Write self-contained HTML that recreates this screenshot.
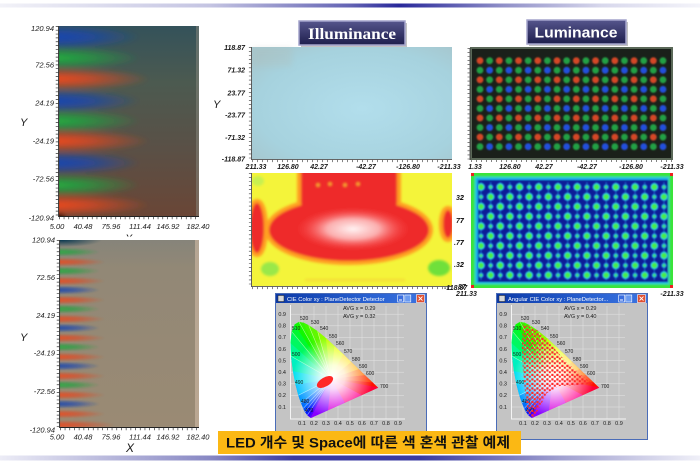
<!DOCTYPE html>
<html><head><meta charset="utf-8"><style>
html,body{margin:0;padding:0;background:#fff;}
svg{display:block;}
.t{font-family:"Liberation Sans",sans-serif;font-style:italic;font-size:7.5px;fill:#1a1a1a;}
.s{font-family:"Liberation Sans",sans-serif;font-size:5.5px;fill:#1a1a1a;}
.w{font-family:"Liberation Sans",sans-serif;font-size:5.8px;fill:#fff;}
</style></head><body>
<svg width="700" height="463" viewBox="0 0 700 463" xmlns="http://www.w3.org/2000/svg">
<defs>
 <linearGradient id="topbar" x1="0" x2="1" y1="0" y2="0">
  <stop offset="0" stop-color="#f2f2f8"/><stop offset="0.3" stop-color="#c4c4e2"/>
  <stop offset="0.5" stop-color="#6464b4"/><stop offset="0.57" stop-color="#28289a"/>
  <stop offset="0.72" stop-color="#9090c8"/><stop offset="0.86" stop-color="#d8d8ec"/>
  <stop offset="1" stop-color="#f4f4fa"/></linearGradient>
 <linearGradient id="botbar" x1="0" x2="1" y1="0" y2="0">
  <stop offset="0" stop-color="#ececf6"/><stop offset="0.3" stop-color="#8888c4"/>
  <stop offset="0.42" stop-color="#3a3aa0"/><stop offset="0.6" stop-color="#3a3aa0"/>
  <stop offset="0.8" stop-color="#a0a0d0"/><stop offset="1" stop-color="#f0f0f8"/></linearGradient>
 <linearGradient id="p1bg" x1="0" x2="0" y1="0" y2="1">
  <stop offset="0" stop-color="#34525a"/><stop offset="0.3" stop-color="#4c5a50"/>
  <stop offset="0.65" stop-color="#5a5046"/><stop offset="1" stop-color="#6a4636"/></linearGradient>
 <linearGradient id="p2bg" x1="0" x2="0" y1="0" y2="1">
  <stop offset="0" stop-color="#86847a"/><stop offset="0.15" stop-color="#928876"/>
  <stop offset="1" stop-color="#9a8a74"/></linearGradient>
 <radialGradient id="gB"><stop offset="0" stop-color="#1846b0"/><stop offset="0.4" stop-color="#1846b0" stop-opacity="0.75"/><stop offset="1" stop-color="#1846b0" stop-opacity="0"/></radialGradient>
 <radialGradient id="gG"><stop offset="0" stop-color="#22b040"/><stop offset="0.4" stop-color="#22a040" stop-opacity="0.75"/><stop offset="1" stop-color="#22a040" stop-opacity="0"/></radialGradient>
 <radialGradient id="gR"><stop offset="0" stop-color="#f04a1e"/><stop offset="0.4" stop-color="#e04820" stop-opacity="0.75"/><stop offset="1" stop-color="#e04820" stop-opacity="0"/></radialGradient>
 <radialGradient id="ilc" cx="0.55" cy="0.55" r="0.7"><stop offset="0" stop-color="#b2deec"/><stop offset="0.75" stop-color="#a6d2de"/><stop offset="1" stop-color="#a6c8d0"/></radialGradient>
 <radialGradient id="wc"><stop offset="0" stop-color="#fff4f4"/><stop offset="0.45" stop-color="#ffd0d0" stop-opacity="0.8"/><stop offset="1" stop-color="#ff4040" stop-opacity="0"/></radialGradient>
 <radialGradient id="wp"><stop offset="0" stop-color="#ffffff"/><stop offset="0.3" stop-color="#ffffff" stop-opacity="0.85"/><stop offset="1" stop-color="#ffffff" stop-opacity="0"/></radialGradient>
 <radialGradient id="tl"><stop offset="0" stop-color="#0a3850"/><stop offset="1" stop-color="#0a3850" stop-opacity="0"/></radialGradient>
 <linearGradient id="nb" x1="0" x2="0" y1="0" y2="1"><stop offset="0" stop-color="#55558c"/><stop offset="1" stop-color="#1e1e4c"/></linearGradient>
 <linearGradient id="tb" x1="0" x2="1" y1="0" y2="0"><stop offset="0" stop-color="#0c3aa8"/><stop offset="0.6" stop-color="#2860d0"/><stop offset="1" stop-color="#3c74e0"/></linearGradient>
 <filter id="b08" x="-5%" y="-5%" width="110%" height="110%"><feGaussianBlur stdDeviation="0.9"/></filter>
 <filter id="b12" x="-10%" y="-10%" width="120%" height="120%"><feGaussianBlur stdDeviation="1.3"/></filter>
 <filter id="b2" x="-10%" y="-10%" width="120%" height="120%"><feGaussianBlur stdDeviation="2.2"/></filter>
 <filter id="b3" x="-30%" y="-30%" width="160%" height="160%"><feGaussianBlur stdDeviation="3"/></filter>
 <clipPath id="c1"><rect x="59" y="26" width="140" height="190"/></clipPath>
 <clipPath id="c2"><rect x="60" y="240" width="139" height="187"/></clipPath>
 <clipPath id="c3"><rect x="252" y="173" width="200" height="113"/></clipPath>
 <clipPath id="c4"><rect x="478" y="180" width="190" height="102"/></clipPath>
 <pattern id="lum" patternUnits="userSpaceOnUse" x="475.185" y="55.925" width="19.26" height="19.1">
  <circle cx="4.815" cy="4.775" r="3.4" fill="#d44628"/>
  <circle cx="14.445" cy="4.775" r="3.4" fill="#24a044"/>
  <circle cx="4.815" cy="14.325" r="3.4" fill="#24a044"/>
  <circle cx="14.445" cy="14.325" r="3.4" fill="#2250dc"/>
 </pattern>
 <pattern id="lhm" patternUnits="userSpaceOnUse" x="476.185" y="182.1" width="19.26" height="19.6">
  <rect x="4.2" y="0" width="1.2" height="19.6" fill="#20a8e8" opacity="0.55"/>
  <rect x="13.85" y="0" width="1.2" height="19.6" fill="#20a8e8" opacity="0.55"/>
  <circle cx="4.815" cy="4.9" r="4" fill="#28c8e8"/><circle cx="4.815" cy="4.9" r="2.8" fill="#48ec48"/>
  <circle cx="14.445" cy="4.9" r="2.6" fill="#20b0e8"/><circle cx="14.445" cy="4.9" r="1.4" fill="#48e060"/>
  <circle cx="4.815" cy="14.7" r="2.6" fill="#20b0e8"/><circle cx="4.815" cy="14.7" r="1.4" fill="#48e060"/>
  <circle cx="14.445" cy="14.7" r="4" fill="#28c8e8"/><circle cx="14.445" cy="14.7" r="2.8" fill="#48ec48"/>
 </pattern>
 <pattern id="rd" patternUnits="userSpaceOnUse" x="0" y="0" width="5" height="4.5">
  <rect x="0.3" y="0.3" width="2.2" height="2.2" fill="#ff2a2a"/>
  <rect x="2.8" y="2.2" width="2" height="2" fill="#ff2a2a"/>
 </pattern>
 <clipPath id="loc"><polygon points="310.9,418 308.8,416.5 307.3,415.2 304.9,411.9 303.2,408.5 301,403.2 298.2,395.3 295.4,384.4 292.8,370.7 291,356.1 290.5,342.6 291.7,331.6 294.7,324.4 298.9,321.9 303.7,322.8 308.6,325.1 317.6,331.1 326.2,338.3 334.8,346.2 343.3,354.3 351.5,362.2 359,369.4 365.2,375.4 373,382.8 378.2,387.8"/></clipPath>
 <g id="winbase">
  <rect x="275.5" y="293.5" width="151" height="146" fill="#c4c4c4" stroke="#4a6cb8" stroke-width="1"/>
  <rect x="276" y="294" width="150" height="9" fill="url(#tb)"/>
  <rect x="278" y="295.5" width="6" height="6" fill="#d8d8d8" stroke="#222" stroke-width="0.5"/>
  <rect x="397.7" y="295" width="6" height="7" fill="#3a6ee0" stroke="#fff" stroke-width="0.6"/>
  <rect x="404.8" y="295" width="6" height="7" fill="#6a9af0" stroke="#fff" stroke-width="0.6"/>
  <rect x="416.5" y="294.6" width="8" height="8" fill="#e05030" stroke="#fff" stroke-width="0.6"/>
  <path d="M418.5 296.6 L422.5 300.6 M422.5 296.6 L418.5 300.6" stroke="#fff" stroke-width="0.9"/>
  <rect x="399" y="299.5" width="3" height="1" fill="#fff"/>
  <g stroke="#e4e4e4" stroke-width="0.5">
   <path d="M302 306V418.6M314 306V418.6M326 306V418.6M338 306V418.6M350 306V418.6M362 306V418.6M374 306V418.6M386 306V418.6M398 306V418.6"/>
   <path d="M290 407H404M290 395.4H404M290 383.8H404M290 372.2H404M290 360.6H404M290 349H404M290 337.4H404M290 325.8H404M290 314.2H404"/>
  </g>
  <path d="M290.5 305V419H405" fill="none" stroke="#f4f4f4" stroke-width="1"/>
  <g clip-path="url(#loc)">
   <g stroke-width="0.6">
    <polygon points="331,379 310.9,418 308.8,416.5" fill="#5000ff" stroke="#5000ff"/>
    <polygon points="331,379 308.8,416.5 307.3,415.2" fill="#2a00ff" stroke="#2a00ff"/>
    <polygon points="331,379 307.3,415.2 304.9,411.9" fill="#0020ff" stroke="#0020ff"/>
    <polygon points="331,379 304.9,411.9 303.2,408.5" fill="#0050ff" stroke="#0050ff"/>
    <polygon points="331,379 303.2,408.5 301,403.2" fill="#0070ff" stroke="#0070ff"/>
    <polygon points="331,379 301,403.2 298.2,395.3" fill="#0098ff" stroke="#0098ff"/>
    <polygon points="331,379 298.2,395.3 295.4,384.4" fill="#00c0ff" stroke="#00c0ff"/>
    <polygon points="331,379 295.4,384.4 292.8,370.7" fill="#00e0f0" stroke="#00e0f0"/>
    <polygon points="331,379 292.8,370.7 291,356.1" fill="#00f0c0" stroke="#00f0c0"/>
    <polygon points="331,379 291,356.1 290.5,342.6" fill="#00f890" stroke="#00f890"/>
    <polygon points="331,379 290.5,342.6 291.7,331.6" fill="#00f860" stroke="#00f860"/>
    <polygon points="331,379 291.7,331.6 294.7,324.4" fill="#00f830" stroke="#00f830"/>
    <polygon points="331,379 294.7,324.4 298.9,321.9" fill="#10f800" stroke="#10f800"/>
    <polygon points="331,379 298.9,321.9 303.7,322.8" fill="#30f800" stroke="#30f800"/>
    <polygon points="331,379 303.7,322.8 308.6,325.1" fill="#40f800" stroke="#40f800"/>
    <polygon points="331,379 308.6,325.1 317.6,331.1" fill="#60f800" stroke="#60f800"/>
    <polygon points="331,379 317.6,331.1 326.2,338.3" fill="#90ff00" stroke="#90ff00"/>
    <polygon points="331,379 326.2,338.3 334.8,346.2" fill="#c0ff00" stroke="#c0ff00"/>
    <polygon points="331,379 334.8,346.2 343.3,354.3" fill="#e8ff00" stroke="#e8ff00"/>
    <polygon points="331,379 343.3,354.3 351.5,362.2" fill="#ffe000" stroke="#ffe000"/>
    <polygon points="331,379 351.5,362.2 359,369.4" fill="#ffb000" stroke="#ffb000"/>
    <polygon points="331,379 359,369.4 365.2,375.4" fill="#ff7000" stroke="#ff7000"/>
    <polygon points="331,379 365.2,375.4 373,382.8" fill="#ff3800" stroke="#ff3800"/>
    <polygon points="331,379 373,382.8 378.2,387.8" fill="#ff1000" stroke="#ff1000"/>
    <polygon points="331,379 378.2,387.8 361.4,395.4" fill="#ff0038" stroke="#ff0038"/>
    <polygon points="331,379 361.4,395.4 344.6,402.9" fill="#ff0090" stroke="#ff0090"/>
    <polygon points="331,379 344.6,402.9 327.7,410.5" fill="#d800e0" stroke="#d800e0"/>
    <polygon points="331,379 327.7,410.5 310.9,418" fill="#8800ff" stroke="#8800ff"/>
   </g>
   <circle cx="333" cy="377" r="40" fill="url(#wp)"/>
   <g stroke="#ffffff" stroke-opacity="0.55" stroke-width="0.6">
    <path d="M331 379L291.7 331.6M331 379L298.9 321.9M331 379L308.6 325.1M331 379L317.6 331.1M331 379L291 356.1M331 379L301 403.2M331 379L304.9 411.9M331 379L307.3 415.2M331 379L303.2 408.5M331 379L298.2 395.3"/>
   </g>
  </g>
  <g class="s" text-anchor="end">
   <text x="286" y="316">0.9</text><text x="286" y="327.6">0.8</text><text x="286" y="339.2">0.7</text>
   <text x="286" y="350.8">0.6</text><text x="286" y="362.4">0.5</text><text x="286" y="374">0.4</text>
   <text x="286" y="385.6">0.3</text><text x="286" y="397.2">0.2</text><text x="286" y="408.8">0.1</text>
  </g>
  <g class="s" text-anchor="middle">
   <text x="302" y="425">0.1</text><text x="314" y="425">0.2</text><text x="326" y="425">0.3</text>
   <text x="338" y="425">0.4</text><text x="350" y="425">0.5</text><text x="362" y="425">0.6</text>
   <text x="374" y="425">0.7</text><text x="386" y="425">0.8</text><text x="398" y="425">0.9</text>
  </g>
  <g class="s" style="font-size:5px">
   <text x="300" y="320">520</text><text x="311" y="324">530</text><text x="292" y="330">510</text>
   <text x="320" y="330">540</text><text x="329" y="338">550</text><text x="336" y="345">560</text>
   <text x="344" y="353">570</text><text x="352" y="361">580</text><text x="359" y="368">590</text>
   <text x="366" y="375">600</text><text x="380" y="388">700</text><text x="292" y="356">500</text>
   <text x="295" y="384">490</text><text x="301" y="403">480</text><text x="305" y="412">470</text>
  </g>
 </g>
</defs>

<!-- decorative bars -->
<rect x="0" y="3.5" width="700" height="4" fill="url(#topbar)"/>
<rect x="0" y="455.5" width="700" height="5" fill="url(#botbar)"/>

<!-- ===== Left plot 1 ===== -->
<g clip-path="url(#c1)">
 <rect x="59" y="26" width="140" height="190" fill="url(#p1bg)"/>
 <g filter="url(#b2)">
  <ellipse cx="55" cy="37" rx="85" ry="13" fill="url(#gB)"/>
  <ellipse cx="55" cy="58" rx="85" ry="12" fill="url(#gG)"/>
  <ellipse cx="55" cy="79" rx="95" ry="12" fill="url(#gR)"/>
  <ellipse cx="55" cy="101" rx="85" ry="12" fill="url(#gB)"/>
  <ellipse cx="55" cy="121" rx="85" ry="12" fill="url(#gG)"/>
  <ellipse cx="55" cy="141" rx="95" ry="12" fill="url(#gR)"/>
  <ellipse cx="55" cy="163" rx="85" ry="12" fill="url(#gB)"/>
  <ellipse cx="55" cy="185" rx="85" ry="12" fill="url(#gG)"/>
  <ellipse cx="55" cy="205" rx="95" ry="12" fill="url(#gR)"/>
  <ellipse cx="58" cy="217" rx="8" ry="4" fill="#100806" opacity="0.8"/>
 </g>
 <rect x="196" y="26" width="3" height="190" fill="#8a8a80" opacity="0.5"/>
</g>
<line x1="58.6" y1="26" x2="58.6" y2="217" stroke="#222" stroke-width="0.9"/>
<line x1="57" y1="26" x2="57" y2="217" stroke="#333" stroke-width="2.5" stroke-dasharray="0.7 3.15"/>
<line x1="59" y1="216.5" x2="199" y2="216.5" stroke="#222" stroke-width="0.9"/>
<line x1="59" y1="218" x2="199" y2="218" stroke="#333" stroke-width="2.5" stroke-dasharray="0.7 4.0"/>
<g class="t" text-anchor="end">
 <text x="54" y="31">120.94</text><text x="54" y="67.5">72.56</text><text x="54" y="105.5">24.19</text>
 <text x="54" y="143.5">-24.19</text><text x="54" y="181.5">-72.56</text><text x="54" y="220.5">-120.94</text>
</g>
<g class="t" text-anchor="middle">
 <text x="57" y="229">5.00</text><text x="83" y="229">40.48</text><text x="111" y="229">75.96</text>
 <text x="140" y="229">111.44</text><text x="168" y="229">146.92</text><text x="198" y="229">182.40</text>
</g>
<text x="20" y="126" class="t" style="font-size:11px">Y</text>
<text x="125" y="242" class="t" style="font-size:11px">X</text>
<rect x="110" y="236.5" width="40" height="4" fill="#fff"/>

<!-- ===== Left plot 2 ===== -->
<g clip-path="url(#c2)">
 <rect x="60" y="240" width="139" height="187" fill="url(#p2bg)"/>
 <ellipse cx="62" cy="240" rx="40" ry="7" fill="url(#tl)"/>
 <g opacity="0.85" filter="url(#b08)">
  <ellipse cx="60" cy="252" rx="40" ry="4.5" fill="url(#gG)"/>
  <ellipse cx="60" cy="262" rx="45" ry="4.5" fill="url(#gR)"/>
  <ellipse cx="60" cy="271" rx="40" ry="4.5" fill="url(#gG)"/>
  <ellipse cx="60" cy="281" rx="45" ry="4.5" fill="url(#gR)"/>
  <ellipse cx="60" cy="290" rx="40" ry="4.5" fill="url(#gB)"/>
  <ellipse cx="60" cy="300" rx="45" ry="4.5" fill="url(#gR)"/>
  <ellipse cx="60" cy="309" rx="40" ry="4.5" fill="url(#gG)"/>
  <ellipse cx="60" cy="319" rx="45" ry="4.5" fill="url(#gR)"/>
  <ellipse cx="60" cy="328" rx="40" ry="4.5" fill="url(#gB)"/>
  <ellipse cx="60" cy="338" rx="45" ry="4.5" fill="url(#gR)"/>
  <ellipse cx="60" cy="347" rx="40" ry="4.5" fill="url(#gG)"/>
  <ellipse cx="60" cy="357" rx="45" ry="4.5" fill="url(#gR)"/>
  <ellipse cx="60" cy="366" rx="40" ry="4.5" fill="url(#gB)"/>
  <ellipse cx="60" cy="376" rx="45" ry="4.5" fill="url(#gR)"/>
  <ellipse cx="60" cy="385" rx="40" ry="4.5" fill="url(#gG)"/>
  <ellipse cx="60" cy="395" rx="45" ry="4.5" fill="url(#gR)"/>
  <ellipse cx="60" cy="404" rx="40" ry="4.5" fill="url(#gB)"/>
  <ellipse cx="60" cy="414" rx="45" ry="4.5" fill="url(#gR)"/>
  <ellipse cx="60" cy="425" rx="55" ry="5" fill="url(#gR)"/>
 </g>
 <rect x="195" y="240" width="4" height="187" fill="#c8b4a0" opacity="0.7"/>
</g>
<line x1="59.6" y1="240" x2="59.6" y2="428" stroke="#222" stroke-width="0.9"/>
<line x1="58" y1="240" x2="58" y2="428" stroke="#333" stroke-width="2.5" stroke-dasharray="0.7 3.1"/>
<line x1="60" y1="427.5" x2="199" y2="427.5" stroke="#222" stroke-width="0.9"/>
<line x1="60" y1="429" x2="199" y2="429" stroke="#333" stroke-width="2.5" stroke-dasharray="0.7 4.0"/>
<g class="t" text-anchor="end">
 <text x="55" y="242.5">120.94</text><text x="55" y="280">72.56</text><text x="55" y="318">24.19</text>
 <text x="55" y="355.5">-24.19</text><text x="55" y="394">-72.56</text><text x="55" y="432.5">-120.94</text>
</g>
<g class="t" text-anchor="middle">
 <text x="57" y="439.5">5.00</text><text x="83" y="439.5">40.48</text><text x="111" y="439.5">75.96</text>
 <text x="140" y="439.5">111.44</text><text x="168" y="439.5">146.92</text><text x="198" y="439.5">182.40</text>
</g>
<text x="20" y="341" class="t" style="font-size:11px">Y</text>
<text x="126" y="452" class="t" style="font-size:12px">X</text>

<!-- ===== Titles ===== -->
<rect x="301" y="23" width="106" height="24" fill="#777" opacity="0.45"/>
<rect x="299" y="21" width="106" height="24" fill="url(#nb)" stroke="#a4a4cc" stroke-width="1.5"/>
<text x="352" y="39" text-anchor="middle" textLength="88" lengthAdjust="spacingAndGlyphs" style="font-family:'Liberation Serif',serif;font-weight:bold;font-size:16px;fill:#fff">Illuminance</text>
<rect x="529" y="22" width="99" height="24" fill="#777" opacity="0.45"/>
<rect x="527" y="20" width="99" height="24" fill="url(#nb)" stroke="#a4a4cc" stroke-width="1.5"/>
<text x="576" y="37.5" text-anchor="middle" textLength="83" lengthAdjust="spacingAndGlyphs" style="font-family:'Liberation Sans',sans-serif;font-weight:bold;font-size:15px;fill:#fff">Luminance</text>

<!-- ===== Illuminance plot ===== -->
<rect x="252" y="47" width="200" height="112" fill="url(#ilc)"/>
<rect x="252" y="47" width="40" height="20" fill="#b4b8ac" opacity="0.2" filter="url(#b3)"/>
<line x1="251.6" y1="47" x2="251.6" y2="160" stroke="#333" stroke-width="0.8"/>
<line x1="250" y1="47" x2="250" y2="160" stroke="#333" stroke-width="2.2" stroke-dasharray="0.6 3.5"/>
<line x1="252" y1="159.5" x2="452" y2="159.5" stroke="#333" stroke-width="0.8"/>
<line x1="252" y1="161" x2="452" y2="161" stroke="#333" stroke-width="2.2" stroke-dasharray="0.6 4.4"/>
<g class="t" text-anchor="end" style="font-weight:bold;font-size:7px">
 <text x="245" y="50">118.87</text><text x="245" y="72.5">71.32</text><text x="245" y="95.5">23.77</text>
 <text x="245" y="117.5">-23.77</text><text x="245" y="140">-71.32</text><text x="245" y="161.5">-118.87</text>
</g>
<text x="213" y="108" class="t" style="font-size:11px">Y</text>
<g class="t" text-anchor="middle" style="font-weight:bold;font-size:7px">
 <text x="256" y="169">211.33</text><text x="288" y="169">126.80</text><text x="319" y="169">42.27</text>
 <text x="366" y="169">-42.27</text><text x="408" y="169">-126.80</text><text x="449" y="169">-211.33</text>
</g>

<!-- ===== Luminance plot ===== -->
<rect x="471" y="48" width="201" height="111" fill="#1a201a" stroke="#5a6858" stroke-width="2"/>
<rect x="475.185" y="55.925" width="192.6" height="95.5" fill="url(#lum)" filter="url(#b08)"/>
<line x1="470" y1="48" x2="470" y2="160" stroke="#333" stroke-width="0.8"/>
<line x1="468.5" y1="48" x2="468.5" y2="160" stroke="#333" stroke-width="2" stroke-dasharray="0.6 3.5"/>
<line x1="471" y1="161" x2="672" y2="161" stroke="#333" stroke-width="2" stroke-dasharray="0.6 4.4"/>
<g class="t" text-anchor="middle" style="font-weight:bold;font-size:7px">
 <text x="475" y="169">1.33</text><text x="510" y="169">126.80</text><text x="544" y="169">42.27</text>
 <text x="587" y="169">-42.27</text><text x="631" y="169">-126.80</text><text x="672" y="169">-211.33</text>
</g>

<!-- ===== Illuminance heatmap ===== -->
<g clip-path="url(#c3)">
 <rect x="252" y="173" width="200" height="113" fill="#f4f43a"/>
 <g filter="url(#b12)">
  <ellipse cx="270" cy="269" rx="9" ry="7" fill="#9ae84a"/>
  <ellipse cx="439" cy="268" rx="11" ry="8" fill="#70e03a"/>
  <ellipse cx="258" cy="181" rx="6" ry="5" fill="#c8f050"/>
  <g fill="none" stroke="#ffa020" stroke-width="8">
   <rect x="301" y="166" width="96" height="44" rx="8"/>
   <ellipse cx="349" cy="230" rx="80" ry="31"/>
   <ellipse cx="257" cy="228" rx="7" ry="25"/>
   <ellipse cx="448" cy="224" rx="5" ry="14"/>
  </g>
  <g fill="#ee2a2a">
   <rect x="301" y="166" width="96" height="44" rx="8"/>
   <ellipse cx="349" cy="230" rx="80" ry="31"/>
   <ellipse cx="257" cy="228" rx="7" ry="25"/>
   <ellipse cx="448" cy="224" rx="5" ry="14"/>
  </g>
  <ellipse cx="353" cy="229" rx="58" ry="22" fill="url(#wc)"/>
  <g fill="#f8c030"><circle cx="318" cy="185" r="1.5"/><circle cx="330" cy="184" r="1.5"/><circle cx="345" cy="185" r="1.5"/><circle cx="358" cy="184" r="1.5"/></g>
  <g fill="#f8b030" opacity="0.4"><rect x="305" y="279" width="100" height="2"/></g>
 </g>
</g>
<line x1="251.6" y1="173" x2="251.6" y2="287" stroke="#333" stroke-width="0.8"/>
<line x1="250" y1="173" x2="250" y2="287" stroke="#333" stroke-width="2.2" stroke-dasharray="0.6 3.5"/>
<line x1="252" y1="286.5" x2="452" y2="286.5" stroke="#333" stroke-width="0.8"/>
<line x1="252" y1="288" x2="452" y2="288" stroke="#333" stroke-width="2.2" stroke-dasharray="0.6 4.4"/>
<g class="t" style="font-size:7px;font-weight:bold">
 <text x="456" y="200">32</text><text x="456" y="223">77</text><text x="454" y="245">.77</text>
 <text x="454" y="267">.32</text><text x="444" y="290">-118.87</text><text x="456" y="296">211.33</text>
</g>

<!-- ===== Luminance heatmap ===== -->
<rect x="471" y="173" width="202" height="115" fill="#3ae43a"/>
<g filter="url(#b08)">
 <rect x="474" y="176" width="196" height="109" fill="#30d8b0"/>
 <rect x="476" y="178" width="192" height="105" fill="#18a8f0"/>
 <rect x="478" y="180" width="190" height="102" fill="#0a1a98"/>
</g>
<g clip-path="url(#c4)"><rect x="476.185" y="182.1" width="192.6" height="98" fill="url(#lhm)" filter="url(#b08)"/></g>
<g fill="#ee2020"><rect x="471" y="173" width="3" height="3"/><rect x="670" y="173" width="3" height="3"/><rect x="471" y="285" width="3" height="3"/><rect x="670" y="285" width="3" height="3"/></g>
<g class="t" style="font-size:7px;font-weight:bold">
 <text x="460" y="200">2</text><text x="460" y="223">7</text><text x="460" y="245">7</text><text x="460" y="267">2</text><text x="458" y="289">87</text>
</g>
<text x="672" y="296" class="t" text-anchor="middle" style="font-size:7px;font-weight:bold">-211.33</text>

<!-- ===== CIE windows ===== -->
<use href="#winbase"/>
<text x="287" y="300.8" class="w">CIE Color xy : PlaneDetector Detector</text>
<ellipse cx="325" cy="382" rx="9" ry="4.5" fill="#ff2828" transform="rotate(-30 325 382)"/>
<text x="343" y="310" class="s">AVG x = 0.29</text>
<text x="343" y="318" class="s">AVG y = 0.32</text>

<use href="#winbase" transform="translate(221 0)"/>
<text x="508" y="300.8" class="w">Angular CIE Color xy : PlaneDetector...</text>
<g transform="translate(221 0)">
 <polygon points="302,323.5 316.4,330.4 332,346.7 344,360.6 359.6,374.5 371.6,383.8 356,385 338,386.1 326,393 318.8,407 312.8,417.4 306.8,414 304.4,395.4 302,372.2 300.8,346.7" fill="url(#rd)"/>
 <text x="343" y="310" class="s">AVG x = 0.29</text>
 <text x="343" y="318" class="s">AVG y = 0.40</text>
</g>

<!-- ===== Yellow caption ===== -->
<rect x="218" y="431" width="303" height="23" fill="#fbb814"/>
<text x="226" y="447.5" textLength="284" lengthAdjust="spacingAndGlyphs" style="font-family:'Liberation Sans','Noto Sans CJK KR',sans-serif;font-weight:bold;font-size:14px;fill:#111">LED 개수 및 Space에 따른 색 혼색 관찰 예제</text>
</svg>
</body></html>
